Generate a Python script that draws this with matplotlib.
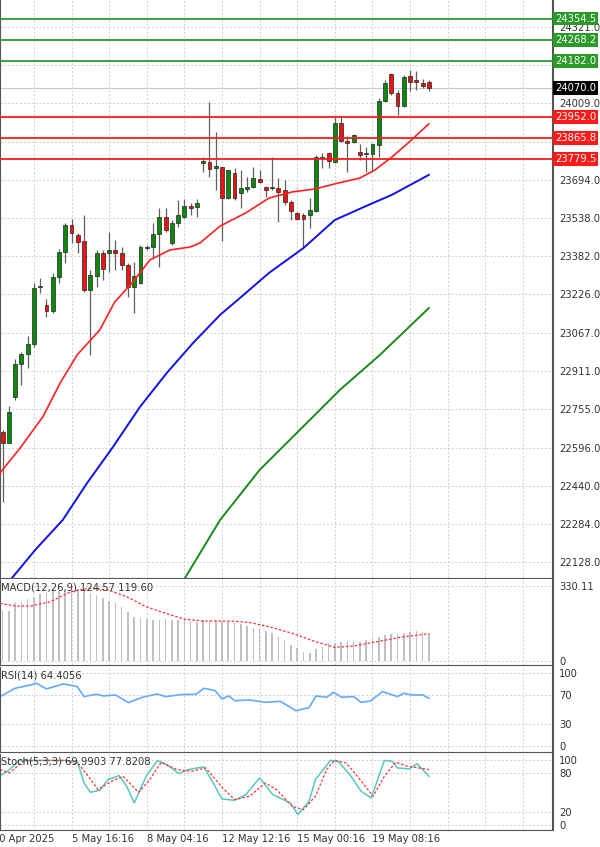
import matplotlib
matplotlib.use("Agg")
import matplotlib.pyplot as plt
import matplotlib.transforms as mtransforms
import numpy as np

# candles: open, high, low, close
opens = [22660, 22615, 22803, 22939, 22980, 23021, 23254, 23181, 23156, 23295,
         23398, 23509, 23468, 23443, 23242, 23300, 23394, 23394, 23406, 23394,
         23345, 23254, 23271, 23414, 23418, 23472, 23541, 23435, 23517, 23541,
         23586, 23582, 23763, 23767, 23742, 23746, 23619, 23722, 23640, 23656,
         23664, 23697, 23664, 23660, 23660, 23652, 23603, 23558, 23550, 23550,
         23566, 23783, 23804, 23767, 23927, 23853, 23849, 23808, 23800, 23800,
         23837, 24017, 24128, 24050, 23996, 24119, 24103, 24091, 24095]
highs = [22668, 22767, 22959, 22988, 23053, 23271, 23291, 23205, 23312, 23410,
         23517, 23533, 23476, 23549, 23324, 23406, 23406, 23480, 23447, 23418,
         23353, 23357, 23427, 23427, 23517, 23578, 23578, 23529, 23611, 23615,
         23599, 23615, 23787, 24013, 23890, 23746, 23734, 23742, 23734, 23705,
         23746, 23734, 23668, 23787, 23701, 23693, 23611, 23562, 23558, 23619,
         23795, 23804, 23808, 23951, 23951, 23873, 23882, 23841, 23828, 23845,
         24029, 24103, 24132, 24062, 24124, 24144, 24140, 24107, 24103]
lows = [22373, 22615, 22791, 22853, 22922, 23008, 23230, 23131, 23148, 23271,
        23353, 23435, 23394, 23234, 22976, 23254, 23283, 23316, 23324, 23324,
        23213, 23148, 23267, 23406, 23373, 23336, 23480, 23427, 23500, 23537,
        23550, 23541, 23726, 23705, 23652, 23443, 23615, 23611, 23578, 23644,
        23660, 23681, 23623, 23652, 23521, 23591, 23529, 23529, 23414, 23496,
        23562, 23742, 23742, 23763, 23849, 23726, 23845, 23775, 23726, 23734,
        23787, 24013, 24042, 23960, 23992, 24058, 24062, 24070, 24058]
closes = [22615, 22742, 22939, 22980, 23021, 23250, 23254, 23156, 23295, 23398,
          23509, 23476, 23439, 23242, 23304, 23394, 23328, 23406, 23394, 23345,
          23254, 23300, 23418, 23418, 23472, 23541, 23488, 23517, 23550, 23586,
          23578, 23599, 23771, 23738, 23750, 23619, 23734, 23619, 23660, 23664,
          23701, 23685, 23652, 23660, 23644, 23603, 23566, 23533, 23533, 23570,
          23787, 23787, 23771, 23927, 23853, 23845, 23878, 23796, 23804, 23841,
          24017, 24091, 24050, 23996, 24115, 24095, 24095, 24078, 24070]

# moving averages (bar index, price)
ma_fast_idx = [-0.4, 2.8, 6.4, 9.2, 11.9, 15.5, 17.9, 20.8, 23.5, 26.7, 29.9, 31.5,
               34.7, 38.8, 42.5, 46.2, 49.8, 53, 57, 59.4, 62.1, 64.7, 68]
ma_fast = [22492, 22594, 22721, 22861, 22976, 23078, 23193, 23275, 23365, 23406, 23418,
           23435, 23504, 23558, 23619, 23644, 23656, 23677, 23701, 23734, 23787, 23845, 23923]
ma_mid_idx = [1.5, 5.2, 9.6, 13.5, 17.6, 21.9, 26.2, 30.4, 34.7, 37.5, 42.5, 48, 53,
              58.4, 62.1, 68]
ma_mid = [22061, 22176, 22299, 22451, 22598, 22762, 22902, 23025, 23140, 23201, 23312,
          23414, 23529, 23591, 23632, 23714]
ma_slow_idx = [29.1, 34.7, 41, 47.4, 53.8, 60.2, 68]
ma_slow = [22061, 22299, 22504, 22668, 22832, 22976, 23168]

res_levels = [24354.5, 24268.2, 24182.0]
sup_levels = [23952.0, 23865.8, 23779.5]
last_price = 24070.0
price_ticks = [24321.0, 24165.0, 24009.0, 23850.0, 23694.0, 23538.0, 23382.0, 23226.0,
               23067.0, 22911.0, 22755.0, 22596.0, 22440.0, 22284.0, 22128.0]

macd_hist = [222, 222, 254, 261, 272, 283, 295, 301, 310, 310, 310, 313, 316, 310, 298,
             291, 276, 266, 254, 239, 217, 195, 188, 184, 181, 181, 184, 181, 181, 181,
             178, 173, 181, 181, 178, 178, 178, 169, 163, 154, 144, 140, 134, 122, 107,
             93, 71, 56, 41, 37, 51, 63, 78, 81, 85, 90, 90, 85, 93, 100, 107, 115, 119,
             119, 125, 129, 132, 129, 125]
macd_sig_idx = [-0.4, 2.0, 4.5, 7.6, 10.9, 13.7, 16.8, 19.8, 22.9, 26, 29, 32.1, 36.4,
                39.5, 42.5, 46.2, 49.9, 53, 56, 59.7, 64, 68]
macd_sig = [254, 242, 242, 261, 305, 320, 313, 283, 239, 210, 184, 176, 176, 169, 151,
            122, 85, 60, 66, 85, 107, 120]

rsi_idx = [-0.4, 2.0, 4.5, 5.4, 7.0, 9.7, 11.9, 13.0, 14.9, 16.1, 18.0, 20.1, 22.3, 24.7,
           26.0, 28.4, 30.9, 32.1, 33.9, 35.0, 36.1, 37.0, 39.4, 41.9, 44.3, 46.8, 48.9,
           50.0, 51.7, 52.8, 54.1, 56.0, 57.2, 58.7, 60.6, 63.0, 64.0, 65.2, 67.0, 68.0]
rsi = [67.6, 79, 83.6, 85.9, 78.1, 84.9, 81.3, 67.6, 70.8, 68.5, 69.9, 59.4, 66.7, 71.2,
       67.6, 70.3, 70.8, 79, 75.8, 64.4, 68.5, 62.1, 63.0, 59.8, 61.2, 48.4, 52.5, 68.5,
       66.7, 73.5, 66.7, 67.6, 59.8, 61.7, 74.4, 67.6, 72.2, 69.9, 69.9, 65.3]

stoch_idx = [-0.4, 0.8, 2.7, 5.1, 7.6, 10.0, 11.9, 13.0, 14.0, 15.5, 16.8, 18.6, 19.8,
             21.0, 22.9, 24.7, 26.6, 28.1, 29.6, 32.1, 33.6, 35.0, 37.0, 38.8, 41.0, 43.1,
             45.9, 47.1, 48.9, 49.9, 52.3, 53.5, 55.4, 57.2, 58.8, 60.9, 62.1, 63.0, 64.9,
             66.1, 67.0, 68.0]
stoch_k = [76.5, 83.2, 100, 100, 100, 100, 98.8, 65, 50.6, 53.7, 70.3, 76.5, 59.9, 34,
           75.4, 100, 91, 79.6, 85.8, 90, 65, 40.2, 38.1, 46.9, 72.8, 46.9, 34, 15.9, 36.6,
           70.3, 100, 98.8, 78, 52.1, 41.8, 100, 98.8, 88.4, 86.8, 95.1, 85.8, 75.4]
stoch_sig_idx = [-0.4, 1.1, 3.3, 5.7, 10.0, 12.2, 13.7, 15.2, 17.4, 19.2, 21.7, 23.5,
                 25.3, 27.8, 30.2, 32.4, 35.1, 37.0, 39.4, 41.9, 43.7, 46.2, 48.0, 49.9,
                 51.7, 52.9, 54.8, 56.6, 59.1, 60.9, 62.7, 64.6, 66.4, 68.0]
stoch_d = [85.8, 80.6, 98.8, 100, 100, 93.6, 75.4, 54.7, 67.7, 75.4, 50.6, 70.3, 97.2,
           85.8, 83.2, 88.4, 57.3, 39.2, 44.4, 65, 54.7, 28.8, 23.6, 44.4, 85.8, 100, 96.2,
           75.4, 44.4, 75.4, 97.2, 91, 88.4, 85.8]

time_labels = ["30 Apr 2025", "5 May 16:16", "8 May 04:16", "12 May 12:16",
               "15 May 00:16", "19 May 08:16"]
time_label_idx = [-1.6, 11, 23, 35, 47, 59]

W, H = 600, 847
fig = plt.figure(figsize=(6, 8.47), dpi=100)
XL = (-0.41, 87.8)
TXT = "#333333"
FS = 7.2


def panel(top, bottom):
    ax = fig.add_axes([0, 1 - bottom / H, 553 / W, (bottom - top) / H])
    ax.set_xlim(*XL)
    ax.tick_params(left=False, bottom=False, labelbottom=False, labelleft=False,
                   right=False, labelright=True, labelsize=FS, labelcolor=TXT, pad=1)
    for s in ax.spines.values():
        s.set_color("#555555")
    ax.spines["right"].set_linewidth(1.5)
    ax.spines["top"].set_visible(False)
    ax.set_xticks(np.arange(5, 88, 6))
    ax.grid(True, color="#d0d0d0", linestyle=(0, (2, 2)), linewidth=0.7)
    ax.set_axisbelow(True)
    return ax


# main price panel
ax = panel(0, 578)
ax.set_ylim(22061, 24431)
ax.set_yticks(price_ticks)
# the labels under the level boxes are hidden
ax.set_yticklabels(["" if t in (24165.0, 23850.0) else f"{t:.1f}" for t in price_ticks])
idx = np.arange(len(closes))
for i in idx:
    up = closes[i] >= opens[i]
    ax.vlines(i, lows[i], highs[i], color="#606060", linewidth=0.9, zorder=2)
    lo, hi = sorted([opens[i], closes[i]])
    ax.bar(i, max(hi - lo, 3), bottom=lo, width=0.62,
           color="#0a8a0a" if up else "#ee1111", edgecolor="#222222", linewidth=0.5, zorder=3)
ax.plot(ma_fast_idx, ma_fast, color="#ff2020", linewidth=1.2, zorder=4)
ax.plot(ma_mid_idx, ma_mid, color="#1010ee", linewidth=1.4, zorder=4)
ax.plot(ma_slow_idx, ma_slow, color="#1a8a1a", linewidth=1.4, zorder=4)
ax.axhline(last_price, color="#c8c8c8", linewidth=0.8, zorder=1)

tr = mtransforms.blended_transform_factory(ax.transAxes, ax.transData)


def level_box(lv, colour):
    ax.text(1.004, lv, f"{lv:.1f}", transform=tr, fontsize=FS, color="#ffffff", va="center",
            ha="left", clip_on=False, zorder=10,
            bbox=dict(boxstyle="square,pad=0.18", fc=colour, ec="none"))


for lv in res_levels:
    ax.axhline(lv, color="#2a9a2a", linewidth=1.3, zorder=5)
    level_box(lv, "#2a9a2a")
for lv in sup_levels:
    ax.axhline(lv, color="#ff1a1a", linewidth=1.3, zorder=5)
    level_box(lv, "#ff1a1a")
level_box(last_price, "#000000")

# MACD
am = panel(579, 665)
am.set_ylim(-17.6, 361)
am.set_yticks([0, 330.11])
am.set_yticklabels(["0", "330.11"])
am.bar(idx, macd_hist, width=0.25, color="#c0c0c0", zorder=2)
am.plot(macd_sig_idx, macd_sig, color="#ff3030", linestyle=(0, (2, 1.5)), linewidth=0.9, zorder=3)
am.text(0.002, 0.9, "MACD(12,26,9) 124.57 119.60", transform=am.transAxes, fontsize=FS,
        color=TXT, va="center")

# RSI
ar = panel(667, 752)
ar.set_ylim(-8, 108)
ar.set_yticks([0, 30, 70, 100])
ar.plot(rsi_idx, rsi, color="#66aaff", linewidth=1.2)
ar.text(0.002, 0.9, "RSI(14) 64.4056", transform=ar.transAxes, fontsize=FS, color=TXT,
        va="center")

# Stochastic
ast = panel(754, 830)
ast.set_ylim(-8, 110)
ast.set_yticks([0, 20, 80, 100])
ast.plot(stoch_idx, stoch_k, color="#55c8c0", linewidth=1.1)
ast.plot(stoch_sig_idx, stoch_d, color="#ff3030", linestyle=(0, (2, 1.5)), linewidth=0.9)
ast.text(0.002, 0.9, "Stoch(5,3,3) 69.9903 77.8208", transform=ast.transAxes, fontsize=FS,
         color=TXT, va="center")

trx = mtransforms.blended_transform_factory(ast.transData, fig.transFigure)
for lab, li in zip(time_labels, time_label_idx):
    ast.text(li, 1 - 839 / H, lab, transform=trx, fontsize=FS, color=TXT, ha="left",
             va="center", clip_on=False)

fig.savefig("out.png", dpi=100)
